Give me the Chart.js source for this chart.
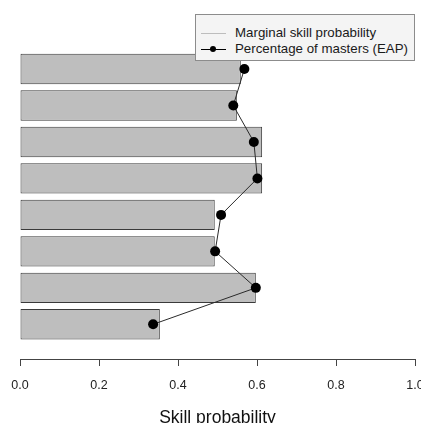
<!DOCTYPE html>
<html>
<head>
<meta charset="utf-8">
<script src="https://cdn.jsdelivr.net/npm/chart.js@4/dist/chart.umd.min.js"></script>
<style>
  html, body { margin: 0; padding: 0; background: #fff; }
  #wrap { position: relative; width: 421px; height: 423px; }
  #c { position: absolute; left: 0; top: 0; }
  #legend {
    position: absolute; left: 195px; top: 14px; width: 220px; height: 47px;
    background: #f4f4f4; border: 1px solid #8c8c8c; box-sizing: border-box;
    font-family: "Liberation Sans", Arial, sans-serif; font-size: 13.3px; color: #1a1a1a;
  }
  .row { position: absolute; left: 0; height: 16px; line-height: 16px; }
  .sample { position: absolute; left: 5px; width: 25px; top: 8px; height: 0; }
  .dot { position: absolute; left: 9px; top: -3.5px; width: 6px; height: 6px; border-radius: 50%; background: #000; }
  .txt { position: absolute; left: 39px; top: 0; white-space: nowrap; }
</style>
</head>
<body>
<div id="wrap">
  <canvas id="c" width="421" height="423"></canvas>
  <div id="legend"></div>
</div>
<script>
// Categories (top to bottom)
const categories = ["Skill 1", "Skill 2", "Skill 3", "Skill 4", "Skill 5", "Skill 6", "Skill 7", "Skill 8"];
// Marginal skill probability (bars)
const marginalProb = [0.559, 0.549, 0.613, 0.613, 0.493, 0.493, 0.597, 0.354];
// Percentage of masters (EAP) (points + line)
const eapMasters = [0.568, 0.540, 0.592, 0.601, 0.509, 0.494, 0.597, 0.337];
// X tick labels
const xTicks = [0.0, 0.2, 0.4, 0.6, 0.8, 1.0];
const seriesNames = ["Marginal skill probability", "Percentage of masters (EAP)"];

const barData = categories.map((c, i) => ({ x: marginalProb[i], y: i }));
const lineData = categories.map((c, i) => ({ x: eapMasters[i], y: i }));

const chart = new Chart(document.getElementById('c'), {
  type: 'bar',
  data: {
    datasets: [
      {
        type: 'line',
        label: seriesNames[1],
        data: lineData,
        order: 0,
        borderColor: '#2a2a2a',
        borderWidth: 1,
        pointRadius: 5,
        pointBackgroundColor: '#000',
        pointBorderColor: '#000',
        pointBorderWidth: 0,
        tension: 0,
        fill: false,
        indexAxis: 'y'
      },
      {
        type: 'bar',
        label: seriesNames[0],
        data: barData,
        order: 1,
        backgroundColor: '#bebebe',
        borderColor: '#3a3a3a',
        borderWidth: 1,
        borderSkipped: false,
        categoryPercentage: 1,
        barPercentage: 1 / 1.2
      }
    ]
  },
  options: {
    indexAxis: 'y',
    responsive: false,
    animation: false,
    devicePixelRatio: 1,
    layout: { padding: { left: 20, right: 6, top: 43, bottom: 0 } },
    plugins: { legend: { display: false }, tooltip: { enabled: false } },
    scales: {
      x: {
        type: 'linear',
        position: 'bottom',
        min: 0, max: 1,
        afterBuildTicks: (s) => { s.ticks = xTicks.map(v => ({ value: v })); },
        afterFit: (s) => { s.paddingLeft = 0; s.paddingRight = 0; s.height = 64; },
        ticks: {
          padding: 12,
          color: '#222',
          font: { family: '"Liberation Sans", Arial, sans-serif', size: 12.5 },
          callback: (v) => Number(v).toFixed(1),
          maxRotation: 0,
          autoSkip: false
        },
        grid: { drawOnChartArea: false, drawTicks: true, tickLength: 7, color: '#444', tickWidth: 1 },
        border: { display: true, color: '#444', width: 1 },
        title: {
          display: true,
          text: 'Skill probability',
          color: '#111',
          font: { family: '"Liberation Sans", Arial, sans-serif', size: 17.5, lineHeight: 0.8 },
          padding: { top: 0, bottom: -2 }
        }
      },
      y: {
        type: 'linear',
        display: false,
        reverse: true,
        offset: false,
        grid: { offset: false },
        min: -0.713,
        max: 7.951,
        afterBuildTicks: (s) => { s.ticks = categories.map((c, i) => ({ value: i })); }
      }
    }
  }
});

// Legend built from dataset labels
const legend = document.getElementById('legend');
const legendItems = [
  { label: seriesNames[0], color: '#bdbdbd', dot: false },
  { label: seriesNames[1], color: '#000', dot: true }
];
legendItems.forEach((it, i) => {
  const row = document.createElement('div');
  row.className = 'row';
  row.style.top = (10 + i * 15.6) + 'px';
  row.style.width = '100%';
  const s = document.createElement('div');
  s.className = 'sample';
  s.style.borderTop = '1px solid ' + it.color;
  if (it.dot) { const d = document.createElement('div'); d.className = 'dot'; s.appendChild(d); }
  const t = document.createElement('span');
  t.className = 'txt';
  t.textContent = it.label;
  row.appendChild(s);
  row.appendChild(t);
  legend.appendChild(row);
});
</script>
</body>
</html>
